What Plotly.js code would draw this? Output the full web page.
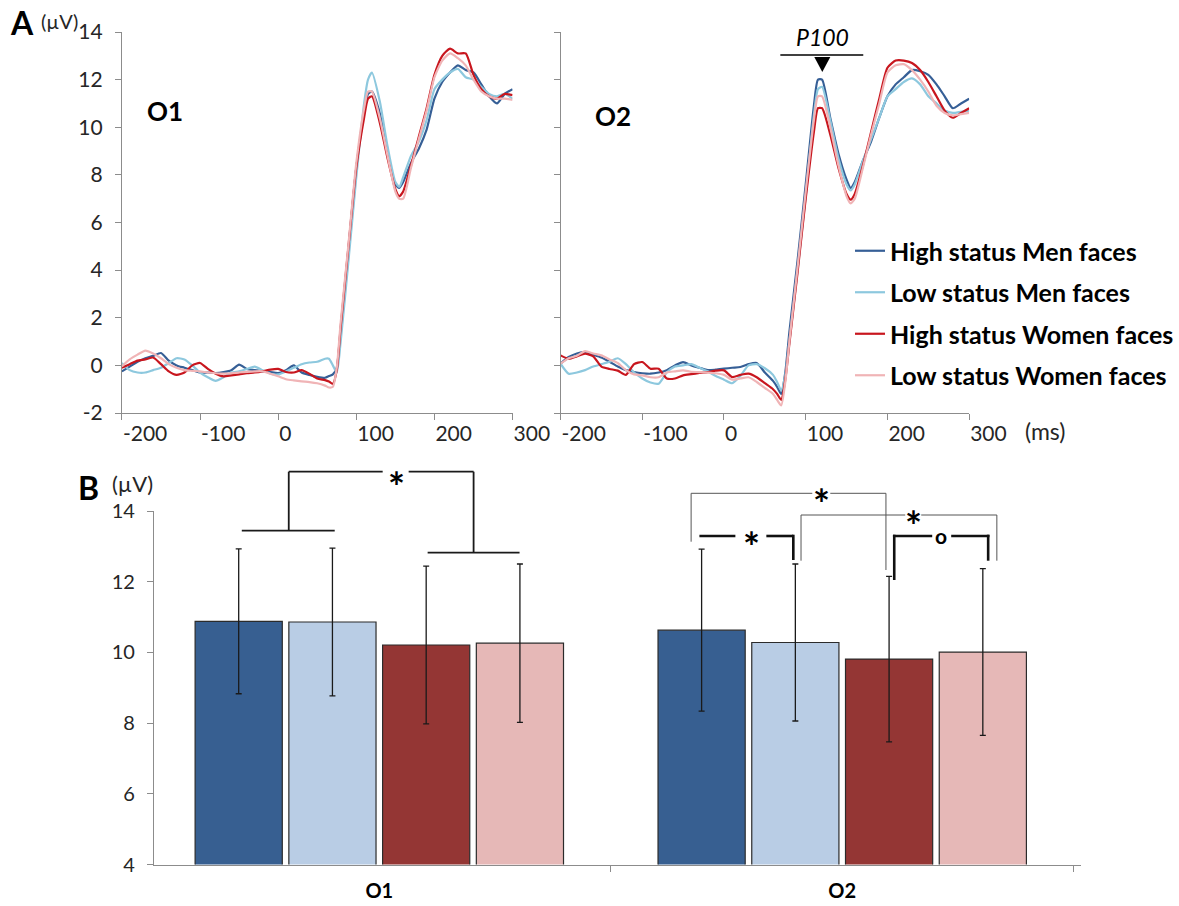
<!DOCTYPE html>
<html>
<head>
<meta charset="utf-8">
<script src="https://cdn.plot.ly/plotly-3.0.1.min.js"></script>
<style>html,body{margin:0;padding:0;background:#fff;}#chart{width:1179px;height:906px;}</style>
</head>
<body>
<div id="chart"></div>
<script>
// ---------- DATA ----------
const seriesNames = ['High status Men faces', 'Low status Men faces', 'High status Women faces', 'Low status Women faces'];
const timeMs = [-200,-190,-180,-170,-160,-150,-140,-130,-120,-110,-100,-90,-80,-70,-60,-50,-40,-30,-20,-10,0,10,20,30,40,50,60,
  65,70,75,80,90,100,110,115,120,130,140,150,155,160,170,180,190,200,210,220,230,240,250,260,270,280,290,300];
const timeTicks = [-200, -100, 0, 100, 200, 300];
const timeTickText = ['-200', '-100', '0', '100', '200', '300'];
const uvTicks = [-2, 0, 2, 4, 6, 8, 10, 12, 14];
const uvTickText = ['-2', '0', '2', '4', '6', '8', '10', '12', '14'];

// O1 electrode ERP (µV)
const o1HighMen = [-0.25,-0.05,0.15,0.3,0.4,0.52,0.2,0.0,-0.1,-0.2,-0.3,-0.3,-0.32,-0.28,-0.2,0.03,-0.15,-0.2,-0.25,-0.28,-0.32,-0.2,0.0,-0.3,-0.4,-0.48,-0.52,
  -0.45,-0.38,-0.1,1.5,4.9,8.3,10.6,11.4,11.5,10.6,8.9,7.6,7.45,7.7,8.5,9.1,9.9,11.2,11.9,12.3,12.6,12.4,12.3,11.8,11.3,11.0,11.4,11.6];
const o1LowMen = [0.1,-0.2,-0.3,-0.3,-0.2,-0.1,0.1,0.3,0.25,0.0,-0.3,-0.5,-0.65,-0.5,-0.3,-0.25,-0.15,-0.05,-0.2,-0.35,-0.38,-0.25,-0.1,0.05,0.12,0.15,0.28,
  0.28,0.0,-0.3,1.0,4.4,7.9,11.0,12.0,12.3,11.1,9.2,7.7,7.5,7.9,8.8,9.4,10.3,11.6,12.0,12.3,12.45,12.1,12.0,11.7,11.4,11.3,11.4,11.2];
const o1HighWomen = [-0.1,0.05,0.2,0.25,0.33,0.05,-0.25,-0.4,-0.3,0.0,0.1,-0.15,-0.35,-0.46,-0.42,-0.38,-0.33,-0.3,-0.25,-0.18,-0.15,-0.28,-0.3,-0.2,-0.35,-0.55,-0.62,
  -0.68,-0.78,-0.2,1.6,5.0,8.3,10.4,11.2,11.3,10.2,8.7,7.4,7.1,7.3,8.4,9.6,10.8,12.2,13.0,13.3,13.1,13.1,12.2,11.6,11.3,11.2,11.4,11.35];
const o1LowWomen = [-0.04,0.25,0.45,0.62,0.5,0.3,0.05,-0.1,-0.2,-0.23,-0.25,-0.3,-0.33,-0.35,-0.33,-0.3,-0.27,-0.25,-0.25,-0.35,-0.46,-0.58,-0.63,-0.67,-0.7,-0.75,-0.85,
  -0.93,-0.9,-0.1,1.8,5.1,8.5,10.8,11.5,11.5,10.4,8.8,7.3,7.0,7.0,8.3,9.5,10.7,12.1,12.8,13.1,12.9,12.6,12.0,11.5,11.3,11.2,11.2,11.15];

// O2 electrode ERP (µV)
const o2HighMen = [0.07,0.35,0.5,0.56,0.45,0.33,0.15,-0.05,-0.2,-0.28,-0.33,-0.35,-0.3,-0.2,0.0,0.14,0.0,-0.1,-0.2,-0.18,-0.14,-0.1,-0.07,0.05,0.1,-0.3,-0.65,
  -0.9,-1.2,-0.3,1.4,4.4,7.6,10.9,12.0,12.0,10.4,8.9,7.8,7.45,7.7,8.6,9.4,10.4,11.3,11.8,12.1,12.4,12.35,12.2,11.8,11.3,10.8,11.0,11.2];
const o2LowMen = [0.07,-0.35,-0.3,-0.2,-0.05,0.05,0.15,0.3,0.05,-0.3,-0.55,-0.72,-0.77,-0.3,-0.05,0.0,0.05,-0.1,-0.25,-0.45,-0.6,-0.75,-0.45,0.0,0.05,-0.12,-0.4,
  -0.7,-1.05,-0.4,1.0,4.0,7.1,10.5,11.6,11.7,10.3,8.7,7.6,7.35,7.6,8.6,9.5,10.4,11.3,11.6,11.9,12.05,11.8,11.3,11.0,10.7,10.6,10.65,10.7];
const o2HighWomen = [0.42,0.28,0.38,0.49,0.38,-0.05,-0.15,-0.22,-0.4,0.05,0.14,-0.14,-0.14,-0.55,-0.55,-0.42,-0.37,-0.32,-0.28,-0.22,-0.21,-0.49,-0.4,-0.35,-0.5,-0.75,-1.0,
  -1.2,-1.45,-0.6,0.9,3.9,7.0,9.8,10.8,10.8,9.7,8.3,7.2,6.96,7.2,8.4,9.8,11.2,12.5,12.8,12.8,12.7,12.4,11.9,11.3,10.7,10.4,10.6,10.8];
const o2LowWomen = [0.07,0.3,0.4,0.6,0.5,0.42,0.25,0.1,-0.2,-0.38,-0.42,-0.5,-0.5,-0.3,-0.25,-0.21,-0.27,-0.28,-0.3,-0.33,-0.4,-0.6,-0.55,-0.5,-0.7,-0.95,-1.2,
  -1.45,-1.68,-0.7,1.0,4.1,7.3,10.3,11.3,11.3,10.0,8.4,7.1,6.8,7.0,8.3,9.7,11.0,12.3,12.6,12.65,12.4,12.0,11.5,10.9,10.6,10.5,10.55,10.6];

// Panel B: mean P100 amplitude (µV) and error
const electrodes = ['O1', 'O2'];
const meanHighMen = [10.88, 10.63];   const errHighMen = [2.05, 2.29];
const meanLowMen = [10.86, 10.28];    const errLowMen = [2.09, 2.22];
const meanHighWomen = [10.21, 9.81];  const errHighWomen = [2.23, 2.34];
const meanLowWomen = [10.26, 10.01];  const errLowWomen = [2.24, 2.36];

// ---------- STYLE ----------
const W = 1179, H = 906;
const X = px => px / W;
const Y = py => 1 - py / H;
const FONT = 'Lato, Carlito, Calibri, "Open Sans", sans-serif';
const lineColors = ['#365F96', '#8DC8DE', '#C8161E', '#F0B4B6'];
const barColors = ['#375F91', '#B9CDE5', '#943634', '#E6B8B7'];
const axisGray = '#8C8C8C';
const tickTxt = '#262626';

const o1 = [o1HighMen, o1LowMen, o1HighWomen, o1LowWomen];
const o2 = [o2HighMen, o2LowMen, o2HighWomen, o2LowWomen];
const means = [meanHighMen, meanLowMen, meanHighWomen, meanLowWomen];
const errs = [errHighMen, errLowMen, errHighWomen, errLowWomen];

const traces = [];
o1.forEach((ys, i) => traces.push({
  type: 'scatter', mode: 'lines', x: timeMs, y: ys, xaxis: 'x', yaxis: 'y',
  name: seriesNames[i], showlegend: false, legendgroup: 'g' + i,
  line: {color: lineColors[i], width: 2.2, shape: 'spline', smoothing: 0.6}
}));
o2.forEach((ys, i) => traces.push({
  type: 'scatter', mode: 'lines', x: timeMs, y: ys, xaxis: 'x2', yaxis: 'y2',
  name: seriesNames[i], showlegend: true, legendgroup: 'g' + i,
  line: {color: lineColors[i], width: 2.2, shape: 'spline', smoothing: 0.6}
}));
means.forEach((m, i) => traces.push({
  type: 'bar', x: electrodes, y: m, xaxis: 'x3', yaxis: 'y3', base: 0,
  name: seriesNames[i], showlegend: false,
  marker: {color: barColors[i], line: {color: '#2b2b2b', width: 1.2}},
  error_y: {type: 'data', array: errs[i], visible: true, color: '#1a1a1a', thickness: 1.3, width: 3}
}));

const topY = [Y(413), Y(32)];
const commonX = {
  range: [-200, 300], tickvals: timeTicks, ticktext: timeTickText, ticks: 'outside', ticklen: 6,
  tickcolor: axisGray, showline: true, linecolor: axisGray, linewidth: 1, showgrid: false, zeroline: false,
  tickfont: {family: FONT, size: 21, color: tickTxt}, ticklabelposition: 'outside right',
  ticklabelstandoff: 2, fixedrange: true
};
const commonY = {
  range: [-2, 14], tickvals: uvTicks, ticktext: uvTickText, ticks: 'outside', ticklen: 6, tickcolor: axisGray,
  showline: true, linecolor: axisGray, linewidth: 1, showgrid: false, zeroline: false,
  tickfont: {family: FONT, size: 21, color: tickTxt}, domain: topY, ticklabelstandoff: 8, fixedrange: true
};

const shapes = [];
const seg = (x0, y0, x1, y1, w, c) => shapes.push({type: 'line', xref: 'paper', yref: 'paper',
  x0: X(x0), y0: Y(y0), x1: X(x1), y1: Y(y1), line: {color: c || '#1a1a1a', width: w || 1.8}});
// P100 marker
seg(781, 55, 864, 55, 1.6, '#000');
shapes.push({type: 'path', xref: 'paper', yref: 'paper', fillcolor: '#000', line: {width: 0},
  path: `M ${X(815)} ${Y(57)} L ${X(831)} ${Y(57)} L ${X(823)} ${Y(72)} Z`});
// O1 bracket
seg(242, 530.7, 335, 530.7, 1.8);
seg(289, 530.7, 289, 471.7, 1.8);
seg(289, 471.7, 383, 471.7, 1.8);
seg(409, 471.7, 474, 471.7, 1.8);
seg(474, 471.7, 474, 552.7, 1.8);
seg(428, 552.7, 520, 552.7, 1.8);
// O2 brackets (thin)
const thin = 1, thinC = '#555';
seg(691.7, 541.7, 691.7, 493.3, thin, thinC);
seg(691.7, 493.3, 813, 493.3, thin, thinC);
seg(831, 493.3, 886.7, 493.3, thin, thinC);
seg(886.7, 493.3, 886.7, 570, thin, thinC);
seg(801.7, 560.7, 801.7, 515, thin, thinC);
seg(801.7, 515, 906, 515, thin, thinC);
seg(922, 515, 997.7, 515, thin, thinC);
seg(997.7, 515, 997.7, 560.7, thin, thinC);
// O2 brackets (thick)
const thick = 2.6;
seg(700, 536, 736, 536, thick, '#111');
seg(767, 536, 794, 536, thick, '#111');
seg(794, 534.7, 794, 560, thick, '#111');
seg(895, 580, 895, 534.7, thick, '#111');
seg(893.7, 536, 933, 536, thick, '#111');
seg(952, 536, 990.3, 536, thick, '#111');
seg(989, 534.7, 989, 560.7, thick, '#111');

const ann = (px, py, text, font) => ({
  xref: 'paper', yref: 'paper', x: X(px), y: Y(py), text: text, showarrow: false,
  xanchor: 'center', yanchor: 'middle', font: Object.assign({family: FONT, color: '#000'}, font)
});
const star = {size: 40, weight: 700};
const annotations = [
  ann(22, 22, 'A', {size: 32, weight: 700}),
  ann(60, 21, '(µV)', {size: 20, color: tickTxt}),
  ann(165, 111, 'O1', {size: 26, weight: 700}),
  ann(614, 116, 'O2', {size: 26, weight: 700}),
  ann(823, 37, 'P100', {size: 23, style: 'italic'}),
  ann(1046, 431, '(ms)', {size: 23, color: tickTxt}),
  ann(89, 487, 'B', {size: 32, weight: 700}),
  ann(133, 484, '(µV)', {size: 22, color: tickTxt}),
  ann(397, 487, '*', star),
  ann(822, 504, '*', star),
  ann(914, 526, '*', star),
  ann(752, 547, '*', star),
  ann(942, 535, 'o', {size: 21, weight: 700})
];

const layout = {
  width: W, height: H, margin: {l: 0, r: 0, t: 0, b: 0}, paper_bgcolor: '#fff', plot_bgcolor: 'rgba(0,0,0,0)',
  font: {family: FONT, color: tickTxt},
  xaxis: Object.assign({}, commonX, {domain: [X(122), X(513)], anchor: 'y'}),
  yaxis: Object.assign({}, commonY, {anchor: 'x'}),
  xaxis2: Object.assign({}, commonX, {domain: [X(561), X(970)], anchor: 'y2'}),
  yaxis2: Object.assign({}, commonY, {anchor: 'x2', showticklabels: false}),
  xaxis3: {
    domain: [X(154), X(1082)], anchor: 'y3', type: 'category', range: [-0.487, 1.516],
    tickson: 'boundaries', ticks: 'outside', ticklen: 6, tickcolor: axisGray, showline: true,
    linecolor: axisGray, linewidth: 1, showgrid: false, zeroline: false, ticklabelstandoff: 8,
    tickfont: {family: FONT, size: 20, color: '#000', weight: 700}, fixedrange: true
  },
  yaxis3: {
    domain: [Y(864.5), Y(511)], anchor: 'x3', range: [4, 14], dtick: 2, ticks: 'outside', ticklen: 6,
    tickcolor: axisGray, showline: true, linecolor: axisGray, linewidth: 1, showgrid: false, zeroline: false,
    tickfont: {family: FONT, size: 20, color: tickTxt}, ticklabelstandoff: 8, fixedrange: true
  },
  barmode: 'group', bargap: 0.19, bargroupgap: 0.07,
  showlegend: true,
  legend: {x: X(851), y: Y(228), xanchor: 'left', yanchor: 'top', bgcolor: 'rgba(0,0,0,0)',
    font: {family: FONT, size: 25, color: '#000', weight: 700}, tracegroupgap: 6, itemwidth: 30},
  shapes: shapes, annotations: annotations, hovermode: false
};

Plotly.newPlot('chart', traces, layout, {displayModeBar: false, staticPlot: true});
</script>
</body>
</html>
